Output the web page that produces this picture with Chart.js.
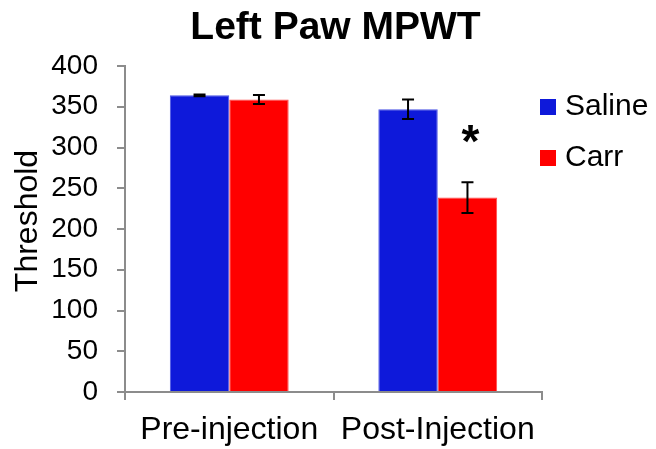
<!DOCTYPE html>
<html>
<head>
<meta charset="utf-8">
<script src="https://cdn.jsdelivr.net/npm/chart.js@4"></script>
<style>
  html, body { margin: 0; padding: 0; background: #fff; }
  #wrap { width: 656px; height: 449px; }
</style>
</head>
<body>
<div id="wrap"><canvas id="myChart"></canvas></div>
<script>
// chart data
const chartTitle = "Left Paw MPWT";
const yTitle = "Threshold";
const categories = ["Pre-injection", "Post-Injection"];
const seriesNames = ["Saline", "Carr"];
const salineValues = [364, 347];
const carrValues = [359, 238.5];
const salineErrors = [1, 12];
const carrErrors = [5.5, 19];
const yTicks = [0, 50, 100, 150, 200, 250, 300, 350, 400];
const significant = [[false, false], [false, true]]; // [series][category]

const FONT = "'Liberation Sans', Arial, sans-serif";
const colors = ["#0e19da", "#ff0000"];
const borders = ["#4b55e4", "#ff4a4a"];
const errors = [salineErrors, carrErrors];

// chart title and y axis title
const titles = {
    id: "titles",
    afterDraw(chart) {
        const ctx = chart.ctx;
        const a = chart.chartArea;
        ctx.save();
        ctx.fillStyle = "#000";
        ctx.font = "bold 39px " + FONT;
        ctx.textAlign = "center";
        ctx.textBaseline = "alphabetic";
        ctx.fillText(chartTitle, (a.left + a.right) / 2 + 2, 38.5);

        ctx.font = "32px " + FONT;
        ctx.translate(37, 221);
        ctx.rotate(-Math.PI / 2);
        ctx.fillText(yTitle, 0, 0);
        ctx.restore();
    }
};

// error bars + asterisk
const errorBars = {
    id: "errorBars",
    afterDatasetsDraw(chart) {
        const ctx = chart.ctx;
        const y = chart.scales.y;
        ctx.save();
        ctx.strokeStyle = "#000";
        ctx.lineWidth = 2;
        chart.data.datasets.forEach((ds, i) => {
            const meta = chart.getDatasetMeta(i);
            meta.data.forEach((bar, j) => {
                const v = ds.data[j], e = errors[i][j];
                const top = y.getPixelForValue(v + e);
                const bot = y.getPixelForValue(v - e);
                const x = bar.x;
                ctx.beginPath();
                ctx.moveTo(x, top); ctx.lineTo(x, bot);
                ctx.moveTo(x - 6, top); ctx.lineTo(x + 6, top);
                ctx.moveTo(x - 6, bot); ctx.lineTo(x + 6, bot);
                ctx.stroke();
                if (significant[i][j]) {
                    ctx.fillStyle = "#000";
                    ctx.font = "bold 46px " + FONT;
                    ctx.textAlign = "center";
                    ctx.textBaseline = "middle";
                    ctx.fillText("*", x + 3, top - 38);
                }
            });
        });
        ctx.restore();
    }
};

// legend on the right
const sideLegend = {
    id: "sideLegend",
    afterDraw(chart) {
        const ctx = chart.ctx;
        const a = chart.chartArea;
        ctx.save();
        ctx.font = "30px " + FONT;
        ctx.textBaseline = "middle";
        ctx.textAlign = "left";
        chart.data.datasets.forEach((ds, i) => {
            const cy = 107 + i * 51;
            ctx.fillStyle = ds.backgroundColor;
            ctx.fillRect(a.right - 2, cy - 8, 16, 16);
            ctx.fillStyle = "#000";
            ctx.fillText(ds.label, a.right + 23, cy);
        });
        ctx.restore();
    }
};

new Chart(document.getElementById("myChart"), {
    type: "bar",
    data: {
        labels: categories,
        datasets: [
            { label: seriesNames[0], data: salineValues, backgroundColor: colors[0], borderColor: borders[0], borderWidth: 1 },
            { label: seriesNames[1], data: carrValues, backgroundColor: colors[1], borderColor: borders[1], borderWidth: 1 }
        ]
    },
    options: {
        responsive: true,
        maintainAspectRatio: false,
        animation: false,
        categoryPercentage: 0.57,
        barPercentage: 1.0,
        layout: { padding: { left: 4, right: 114, top: 66, bottom: 0 } },
        plugins: {
            legend: { display: false },
            tooltip: { enabled: false },
            title: { display: false }
        },
        scales: {
            x: {
                afterFit(scale) { scale.height = 57; },
                grid: { display: true, drawOnChartArea: false, drawTicks: true, tickLength: 8, color: "#8c8c8c", lineWidth: 2, offset: true },
                border: { display: true, color: "#8c8c8c", width: 2 },
                ticks: { color: "#000", font: { family: FONT, size: 32 }, padding: 11, maxRotation: 0 }
            },
            y: {
                min: 0,
                max: 400,
                afterBuildTicks(scale) { scale.ticks = yTicks.map(v => ({ value: v })); },
                afterFit(scale) { scale.width = 121; },
                grid: { display: true, drawOnChartArea: false, drawTicks: true, tickLength: 8, color: "#8c8c8c", lineWidth: 2 },
                border: { display: true, color: "#8c8c8c", width: 2 },
                ticks: { color: "#000", font: { family: FONT, size: 28 }, padding: 19 }
            }
        }
    },
    plugins: [errorBars, sideLegend, titles]
});
</script>
</body>
</html>
